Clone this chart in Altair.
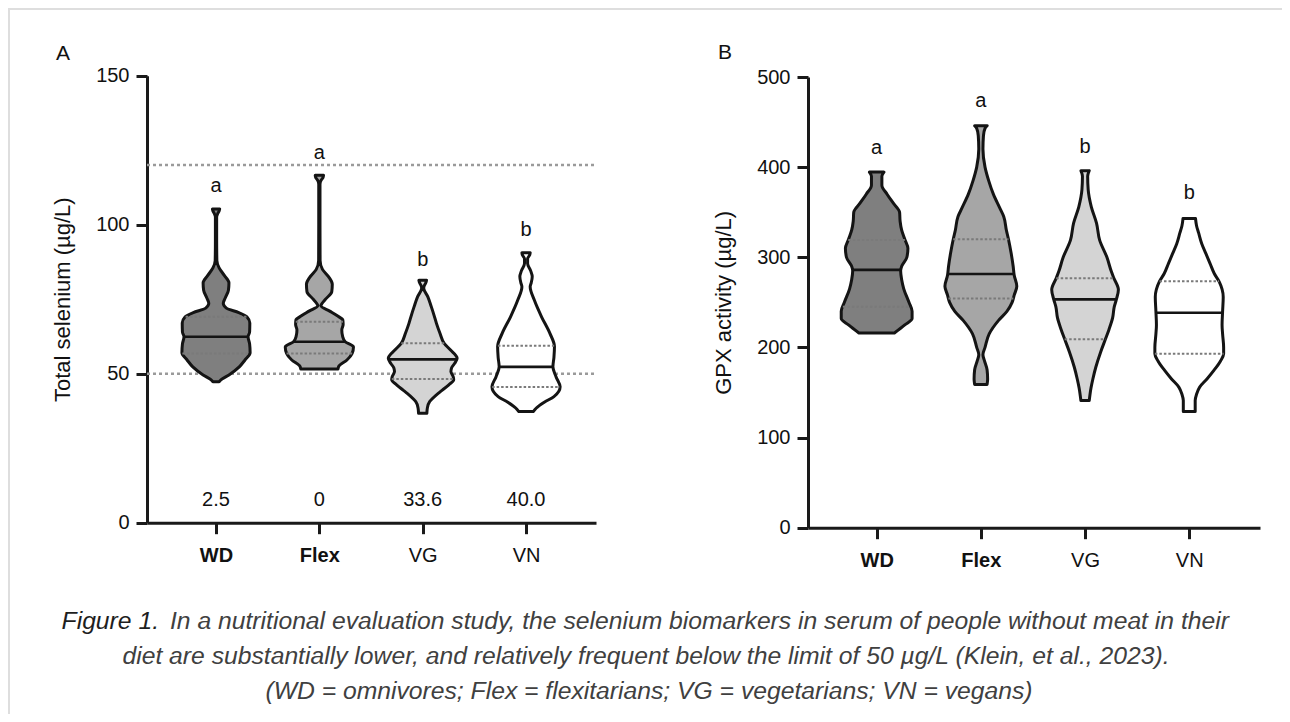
import altair as alt
import numpy as np
import pandas as pd

groups = ["WD", "Flex", "VG", "VN"]
fills = ["#7f7f7f", "#a6a6a6", "#d4d4d4", "#ffffff"]

# ---- Panel A: total selenium (ug/L) violin profiles (value, relative half-width)
sel_wd_val = [105.3, 104.6, 103.6, 102.6, 95, 88, 85.5, 83, 80.5, 78, 75.5, 73.6, 72, 70.5, 69, 67, 64, 62.4, 60, 57, 54.6, 52.3, 49.6, 48, 47.3]
sel_wd_den = [3.5, 3, 1.5, 0.6, 0.6, 0.8, 3, 8, 12.5, 12, 9, 7, 10, 22, 30, 32.7, 32.5, 31, 32.5, 33, 28, 22.5, 12.5, 5, 3]
sel_fx_val = [116.6, 115.8, 114.8, 113.5, 100, 88, 85, 82.5, 80, 77.5, 75, 72.8, 71, 69.5, 68, 66.5, 64.7, 62.5, 60.7, 59, 56.8, 54.6, 52.6, 51.6]
sel_fx_den = [4, 3.5, 1.5, 0.6, 0.6, 0.7, 3, 9, 12.5, 12, 6, 1.5, 10, 17, 22.7, 23, 21.7, 22.5, 25, 33, 31.7, 26.7, 19, 18]
sel_vg_val = [81.4, 80.5, 79.5, 78.7, 75.8, 72.5, 69, 66.9, 63.6, 60.2, 58, 55.2, 53.5, 52, 50.7, 49, 48, 46.2, 44.5, 43.4, 41.5, 40.6, 38.5, 36.7]
sel_vg_den = [3.7, 3, 1.5, 1, 5, 8.3, 11.5, 13.3, 16.7, 20.8, 26.7, 33.3, 31, 28, 27.3, 29.5, 30, 25, 19, 15, 9, 6.7, 4.5, 4]
sel_vn_val = [90.6, 89.8, 88.6, 87, 84.5, 82.6, 80.5, 79.2, 74.7, 69.1, 63.6, 59.1, 55.5, 52.3, 49, 45.6, 42.3, 40.5, 38.5, 37.3]
sel_vn_den = [4, 3.5, 1.5, 1.5, 4.5, 6, 5, 4, 8, 15, 23, 27.5, 27, 26, 29, 33, 27, 18, 10, 7]
sel_median = [62.4, 60.7, 54.8, 52.3]
sel_q1 = [56.8, 56.8, 48.2, 45.5]
sel_q3 = [69.1, 67.4, 60.2, 59.4]
sel_letters = ["a", "a", "b", "b"]
sel_letter_at = [113, 124, 88, 98.2]
sel_below50 = ["2.5", "0", "33.6", "40.0"]
sel_below50_at = 7.6
sel_limits = [120, 50]

# ---- Panel B: GPX activity (ug/L)
gpx_wd_val = [394.5, 390, 380, 370, 360, 350, 340, 330, 320, 310, 300, 290, 285, 275, 265, 250, 240, 232, 225, 216]
gpx_wd_den = [7, 5, 5, 10, 16, 22, 22.5, 24, 27, 30, 29, 24, 23, 24, 26, 31, 34, 34, 27, 17]
gpx_fx_val = [446, 443, 435, 420, 400, 385, 370, 355, 345, 330, 320, 305, 290, 280, 268, 258, 250, 240, 230, 215, 200, 192, 185, 175, 165, 159]
gpx_fx_den = [6, 4, 2.5, 2, 4, 7.5, 12, 18, 22, 24.5, 26.5, 29, 31, 32, 34.5, 32, 30, 25, 17, 8, 4, 2, 3.5, 6, 6.5, 6]
gpx_vg_val = [396, 390, 375, 356, 338, 319, 300, 285, 277, 264, 253, 245, 233, 220, 209, 195, 178, 165, 155, 141]
gpx_vg_den = [4, 2.5, 3, 6, 11, 14, 21, 25, 27.6, 32, 30, 28, 26.5, 23, 19.5, 15, 10.3, 7.5, 5.7, 4]
gpx_vn_val = [343, 335, 327, 315, 304, 293, 282, 273, 256, 240, 225, 215, 200, 193, 185, 175, 165, 156, 148, 141, 129]
gpx_vn_den = [6, 7, 9, 12, 16, 20, 24, 28.7, 32.6, 32, 31.5, 32, 33, 33, 30, 24, 17, 10, 7, 5.7, 5.7]
gpx_median = [286, 281.5, 253.3, 238.5]
gpx_q1 = [245.2, 254.4, 209.2, 193]
gpx_q3 = [319.3, 320, 276.7, 273.3]
gpx_letters = ["a", "a", "b", "b"]
gpx_letter_at = [421, 473.7, 422, 371]

caption_1a = "Figure 1."
caption_1b = "In a nutritional evaluation study, the selenium biomarkers in serum of people without meat in their"
caption_2 = "diet are substantially lower, and relatively frequent below the limit of 50 µg/L (Klein, et al., 2023)."
caption_3 = "(WD = omnivores; Flex = flexitarians; VG = vegetarians; VN = vegans)"

FONT = "Liberation Sans"
INK = "#111111"


def violin_frame(vals_list, dens_list):
    rows = []
    for i, (g, vals, dens) in enumerate(zip(groups, vals_list, dens_list)):
        pos = i + 1
        for v, d in zip(vals, dens):
            rows.append(dict(group=g, pos=pos, value=v, lo=pos - d / 100, hi=pos + d / 100))
    return pd.DataFrame(rows)


def line_frame(vals_list, dens_list, levels):
    rows = []
    for i, (g, vals, dens, lv) in enumerate(zip(groups, vals_list, dens_list, levels)):
        pos = i + 1
        hw = float(np.interp(lv, vals[::-1], dens[::-1])) / 100
        rows.append(dict(group=g, value=lv, lo=pos - hw, hi=pos + hw))
    return pd.DataFrame(rows)


def panel(vals_list, dens_list, med, q1, q3, letters, letter_at, xs, ys, ax_x, ax_y, extra_top=None, refs=None):
    X = lambda f: alt.X(f, type="quantitative", scale=xs, axis=ax_x)
    Y = lambda f: alt.Y(f, type="quantitative", scale=ys, axis=ax_y)
    layers = []
    if refs is not None:
        rdf = pd.DataFrame({"value": refs, "lo": [xs.domain[0]] * len(refs), "hi": [xs.domain[1]] * len(refs)})
        layers.append(
            alt.Chart(rdf).mark_rule(color="#9a9a9a", strokeWidth=2.5, strokeDash=[3, 3]).encode(
                y=Y("value"), x=X("lo"), x2="hi"
            )
        )
    vdf = violin_frame(vals_list, dens_list)
    layers.append(
        alt.Chart(vdf).mark_area(orient="horizontal", interpolate="monotone", stroke="#141414",
                                 strokeWidth=3, strokeJoin="round").encode(
            y=Y("value"), x=X("lo"), x2="hi",
            fill=alt.Fill("group:N", scale=alt.Scale(domain=groups, range=fills), legend=None),
        )
    )
    qdf = pd.concat([line_frame(vals_list, dens_list, q1), line_frame(vals_list, dens_list, q3)])
    layers.append(
        alt.Chart(qdf).mark_rule(color="#7a7a7a", strokeWidth=2, strokeDash=[2.5, 2]).encode(
            y=Y("value"), x=X("lo"), x2="hi"
        )
    )
    mdf = line_frame(vals_list, dens_list, med)
    layers.append(
        alt.Chart(mdf).mark_rule(color="#141414", strokeWidth=2.6).encode(y=Y("value"), x=X("lo"), x2="hi")
    )
    ldf = pd.DataFrame({"pos": [1, 2, 3, 4], "value": letter_at, "label": letters})
    layers.append(
        alt.Chart(ldf).mark_text(font=FONT, fontSize=20, color=INK, baseline="middle").encode(
            x=X("pos"), y=Y("value"), text="label:N"
        )
    )
    if extra_top is not None:
        edf = pd.DataFrame({"pos": [1, 2, 3, 4], "value": [extra_top[1]] * 4, "label": extra_top[0]})
        layers.append(
            alt.Chart(edf).mark_text(font=FONT, fontSize=20, color=INK, baseline="middle").encode(
                x=X("pos"), y=Y("value"), text="label:N"
            )
        )
    return alt.layer(*layers)


bold_first_two = {"condition": {"test": "datum.value <= 2", "value": "bold"}, "value": "normal"}
label_expr = "['', 'WD', 'Flex', 'VG', 'VN'][datum.value]"

common_axis = dict(
    domainWidth=3, domainColor="#1a1a1a", tickWidth=3, tickColor="#1a1a1a", tickSize=11,
    labelFont=FONT, labelFontSize=20, labelColor=INK, grid=False,
)

xsA = alt.Scale(domain=[0.332, 4.677], range=[139, 588], nice=False, zero=False)
ysA = alt.Scale(domain=[0, 150], range=[514.7, 67.7], nice=False, zero=False)
xsB = alt.Scale(domain=[0.341, 4.679], range=[800, 1252], nice=False, zero=False)
ysB = alt.Scale(domain=[0, 500], range=[519.7, 69], nice=False, zero=False)

axXA = alt.Axis(values=[1, 2, 3, 4], labelExpr=label_expr, orient="bottom", offset=-191.3, title=None,
                labelPadding=12, labelAngle=0, labelFontWeight=bold_first_two, **common_axis)
axYA = alt.Axis(values=[0, 50, 100, 150], orient="left", offset=-139, title="Total selenium (µg/L)",
                titleFont=FONT, titleFontSize=22, titleFontWeight="normal", titleColor=INK, titlePadding=21,
                labelPadding=7, **common_axis)
axXB = alt.Axis(values=[1, 2, 3, 4], labelExpr=label_expr, orient="bottom", offset=-186.3, title=None,
                labelPadding=12, labelAngle=0, labelFontWeight=bold_first_two, **common_axis)
axYB = alt.Axis(values=[0, 100, 200, 300, 400, 500], orient="left", offset=-800, title="GPX activity (µg/L)",
                titleFont=FONT, titleFontSize=22, titleFontWeight="normal", titleColor=INK, titlePadding=21,
                labelPadding=7, **common_axis)

panelA = panel([sel_wd_val, sel_fx_val, sel_vg_val, sel_vn_val], [sel_wd_den, sel_fx_den, sel_vg_den, sel_vn_den],
               sel_median, sel_q1, sel_q3, sel_letters, sel_letter_at, xsA, ysA, axXA, axYA,
               extra_top=(sel_below50, sel_below50_at), refs=sel_limits)
panelB = panel([gpx_wd_val, gpx_fx_val, gpx_vg_val, gpx_vn_val], [gpx_wd_den, gpx_fx_den, gpx_vg_den, gpx_vn_den],
               gpx_median, gpx_q1, gpx_q3, gpx_letters, gpx_letter_at, xsB, ysB, axXB, axYB)

one = pd.DataFrame({"k": [0]})
border = alt.Chart(one).mark_rect(fillOpacity=0, stroke="#dedede", strokeWidth=2).encode(
    x=alt.value(1), y=alt.value(1), x2=alt.value(1400), y2=alt.value(900)
)
labA = alt.Chart(one).mark_text(text="A", font=FONT, fontSize=21, color=INK, baseline="middle").encode(
    x=alt.value(55), y=alt.value(46))
labB = alt.Chart(one).mark_text(text="B", font=FONT, fontSize=21, color=INK, baseline="middle").encode(
    x=alt.value(717), y=alt.value(45))

cap_style = dict(font=FONT, fontStyle="italic", fontSize=24.7, baseline="middle")
cap1a = alt.Chart(one).mark_text(text=caption_1a, align="right", color="#1e1e1e", **cap_style).encode(
    x=alt.value(151), y=alt.value(614))
cap1b = alt.Chart(one).mark_text(text=caption_1b, align="left", color="#404040", **cap_style).encode(
    x=alt.value(162), y=alt.value(614))
cap2 = alt.Chart(one).mark_text(text=caption_2, align="center", color="#404040", **cap_style).encode(
    x=alt.value(638), y=alt.value(649))
cap3 = alt.Chart(one).mark_text(text=caption_3, align="center", color="#404040", **cap_style).encode(
    x=alt.value(641), y=alt.value(684))

annot = alt.layer(border, labA, labB, cap1a, cap1b, cap2, cap3)

chart = alt.layer(panelA, panelB, annot).resolve_scale(x="independent", y="independent").properties(
    width=1274, height=706, autosize=alt.AutoSizeParams(type="none"), padding=0,
    background="white",
).configure_view(stroke=None)

chart.save("out.html", embed_options={"renderer": "svg", "actions": False})
